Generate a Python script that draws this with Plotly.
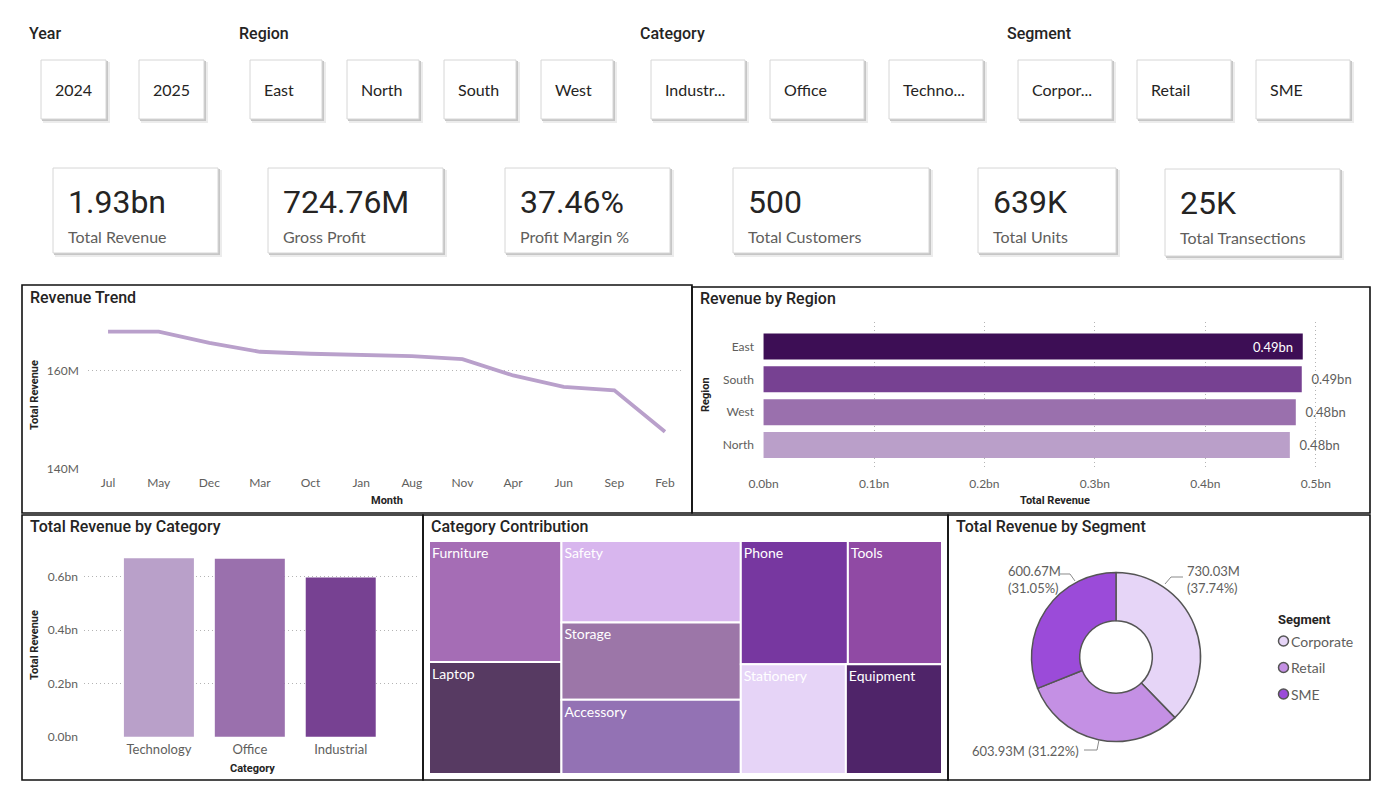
import plotly.graph_objects as go

W, H = 1388, 801
def X(p): return p / W
def Y(p): return 1 - p / H

# ---------------- data ----------------
slicer_headers = ["Year", "Region", "Category", "Segment"]
year_items = ["2024", "2025"]
region_items = ["East", "North", "South", "West"]
category_items = ["Industr...", "Office", "Techno..."]
segment_items = ["Corpor...", "Retail", "SME"]

kpi_values = ["1.93bn", "724.76M", "37.46%", "500", "639K", "25K"]
kpi_labels = ["Total Revenue", "Gross Profit", "Profit Margin %", "Total Customers", "Total Units", "Total Transections"]

months = ["Jul", "May", "Dec", "Mar", "Oct", "Jan", "Aug", "Nov", "Apr", "Jun", "Sep", "Feb"]
month_revenue_m = [167.9, 167.9, 165.6, 163.8, 163.4, 163.2, 162.9, 162.3, 159.0, 156.7, 156.0, 147.6]

regions = ["East", "South", "West", "North"]
region_revenue_bn = [0.4882, 0.4873, 0.4819, 0.4765]

categories = ["Technology", "Office", "Industrial"]
category_revenue_bn = [0.670, 0.668, 0.598]

subcategories = ["Furniture", "Laptop", "Safety", "Storage", "Accessory", "Phone", "Tools", "Stationery", "Equipment"]
subcategory_revenue_m = [259.4, 240.0, 236.3, 224.5, 215.6, 213.4, 187.6, 186.8, 170.9]

segments = ["Corporate", "Retail", "SME"]
segment_revenue_m = [730.034, 603.926, 600.666]

# ---------------- style ----------------
FONT_UI = "Segoe UI, Lato, sans-serif"
FONT_T = "DIN, Roboto, sans-serif"
C_TXT = "#252423"
C_TICK = "#605E5C"
C_GRID = "#b4b4b4"
GRID_DASH = "1px,3px"

region_colors = ["#3D0E55", "#774192", "#9A70AD", "#BA9FC9"]
category_colors = ["#B9A0C9", "#9A70AD", "#774192"]
subcat_colors = ["#A56DB5", "#573A62", "#D8B6EE", "#9C76A8", "#9372B4",
                 "#7737A0", "#904AA4", "#E6D4F7", "#4F2469"]
segment_colors = ["#E6D5F7", "#C490E4", "#9B4BD9"]

# slicer / card geometry (pixels)
header_x = [28, 238, 639, 1006]
slicer_boxes = [[(41, 106), (139, 204)],
                [(250, 322), (347, 419), (444, 516), (541, 613)],
                [(651, 745), (770, 864), (889, 983)],
                [(1018, 1112), (1137, 1231), (1256, 1350)]]
card_boxes = [(53, 218, 168, 253), (268, 443, 168, 253), (505, 670, 168, 253),
              (733, 929, 168, 253), (978, 1116, 168, 253), (1165, 1340, 169, 256)]
panels = [(22, 285, 692, 513), (692, 287, 1370, 513), (22, 515, 423, 780),
          (423, 515, 948, 780), (948, 515, 1370, 780)]

shapes = []
annotations = []

def rect(x0, y0, x1, y1, fill=None, line=None, lw=1):
    d = dict(type="rect", xref="paper", yref="paper",
             x0=X(x0), x1=X(x1), y0=Y(y1), y1=Y(y0), layer="below")
    d["fillcolor"] = fill if fill else "rgba(0,0,0,0)"
    d["line"] = dict(color=line if line else "rgba(0,0,0,0)", width=lw if line else 0)
    return d

def text(x, y, s, size=12, color=C_TXT, family=FONT_UI, xanchor="left", weight="normal", angle=0, align="left"):
    annotations.append(dict(x=X(x), y=Y(y), xref="paper", yref="paper", text=s,
                            showarrow=False, xanchor=xanchor, yanchor="middle",
                            textangle=angle, align=align, borderpad=0,
                            font=dict(size=size, color=color, family=family, weight=weight)))

def shadow_box(x0, y0, x1, y1):
    shapes.append(rect(x0 + 2, y0 + 2, x1 + 4, y1 + 4, fill="#ececec"))
    shapes.append(rect(x0 + 1, y0 + 1, x1 + 2, y1 + 2, fill="#c6c6c6"))
    shapes.append(rect(x0, y0, x1, y1, fill="white", line="#d6d6d6", lw=1))

# slicers
slicer_items = [year_items, region_items, category_items, segment_items]
for hx, hdr, boxes, items in zip(header_x, slicer_headers, slicer_boxes, slicer_items):
    text(hx, 34, hdr, size=16, family=FONT_T, weight=500)
    for (bx0, bx1), it in zip(boxes, items):
        shadow_box(bx0, 60, bx1, 119)
        text(bx0 + 13, 89.5, it, size=16)

# KPI cards
for (cx0, cx1, cy0, cy1), v, lab in zip(card_boxes, kpi_values, kpi_labels):
    shadow_box(cx0, cy0, cx1, cy1)
    text(cx0 + 14, cy0 + 34, v, size=32, family=FONT_T)
    text(cx0 + 14, cy0 + 68, lab, size=16, color=C_TICK)

# panels
for (px0, py0, px1, py1) in panels:
    s = rect(px0, py0, px1, py1, line="#111111", lw=1.6)
    s["layer"] = "above"
    shapes.append(s)

# panel titles
text(29, 297, "Revenue Trend", size=16, family=FONT_T, weight=500)
text(699, 298, "Revenue by Region", size=16, family=FONT_T, weight=500)
text(29, 526, "Total Revenue by Category", size=16, family=FONT_T, weight=500)
text(430, 526, "Category Contribution", size=16, family=FONT_T, weight=500)
text(955, 526, "Total Revenue by Segment", size=16, family=FONT_T, weight=500)

# axis titles
text(387, 500, "Month", size=11, family=FONT_T, weight="bold", xanchor="center")
text(34, 395, "Total Revenue", size=11, family=FONT_T, weight="bold", xanchor="center", angle=-90)
text(1055, 500, "Total Revenue", size=11, family=FONT_T, weight="bold", xanchor="center")
text(705, 395, "Region", size=11, family=FONT_T, weight="bold", xanchor="center", angle=-90)
text(252, 768, "Category", size=11, family=FONT_T, weight="bold", xanchor="center")
text(34, 645, "Total Revenue", size=11, family=FONT_T, weight="bold", xanchor="center", angle=-90)

fig = go.Figure()

# Revenue trend
fig.add_trace(go.Scatter(x=months, y=month_revenue_m, mode="lines",
                         line=dict(color="#B9A0CB", width=3.8),
                         xaxis="x", yaxis="y", showlegend=False, hoverinfo="x+y"))

# Revenue by region
NB = "\u00a0\u00a0"
region_pos = ["inside"] + ["outside"] * (len(regions) - 1)
region_txt = [f"{v:.2f}bn" + NB if p == "inside" else NB + f"{v:.2f}bn"
              for v, p in zip(region_revenue_bn, region_pos)]
fig.add_trace(go.Bar(y=regions, x=region_revenue_bn, orientation="h",
                     marker=dict(color=region_colors, line=dict(width=0)),
                     width=0.79, text=region_txt,
                     textposition=region_pos, insidetextanchor="end",
                     insidetextfont=dict(color="white", size=13, family=FONT_UI),
                     outsidetextfont=dict(color=C_TICK, size=13, family=FONT_UI),
                     cliponaxis=False, xaxis="x2", yaxis="y2", showlegend=False))

# Revenue by category
fig.add_trace(go.Bar(x=categories, y=category_revenue_bn,
                     marker=dict(color=category_colors, line=dict(width=0)),
                     width=0.77, xaxis="x3", yaxis="y3", showlegend=False))

# Treemap
fig.add_trace(go.Treemap(labels=subcategories, parents=[""] * len(subcategories),
                         values=subcategory_revenue_m, sort=True,
                         tiling=dict(packing="squarify", squarifyratio=1.618, pad=0),
                         marker=dict(colors=subcat_colors, line=dict(color="white", width=2),
                                     pad=dict(t=0, l=0, r=0, b=0)),
                         textposition="top left", texttemplate="%{label}",
                         textfont=dict(color="white", size=14, family=FONT_UI),
                         pathbar=dict(visible=False),
                         domain=dict(x=[X(429), X(942)], y=[Y(774), Y(541)])))

# Donut
fig.add_trace(go.Pie(labels=segments, values=segment_revenue_m, hole=0.43, sort=False,
                     direction="clockwise", rotation=0, textinfo="none",
                     marker=dict(colors=segment_colors, line=dict(color="#555555", width=1.5)),
                     showlegend=False,
                     domain=dict(x=[X(1031.5), X(1200.5)], y=[Y(741.5), Y(572.5)])))

total_seg = sum(segment_revenue_m)
seg_txt = [f"{v:.2f}M<br>({v / total_seg * 100:.2f}%)" for v in segment_revenue_m]
# Corporate label (right), Retail (bottom), SME (left)
text(1186, 579.5, seg_txt[0], size=13, color=C_TICK)
text(1080, 751, seg_txt[1].replace("<br>", " "), size=13, color=C_TICK, xanchor="right")
text(1007, 579.5, seg_txt[2], size=13, color=C_TICK)
for pts in [[(1165, 584), (1171, 577), (1183, 577)],
            [(1099, 740), (1097, 750), (1084, 750)],
            [(1075, 581), (1070, 574), (1060, 574)]]:
    path = "M " + " L ".join(f"{X(a):.5f},{Y(b):.5f}" for a, b in pts)
    shapes.append(dict(type="path", xref="paper", yref="paper", path=path,
                       line=dict(color="#8a8a8a", width=1), layer="above"))

# Donut legend
text(1277, 619, "Segment", size=13, family=FONT_T, weight="bold")
for i, (seg, col) in enumerate(zip(segments, segment_colors)):
    cy = 641 + i * 26.5
    shapes.append(dict(type="circle", xref="paper", yref="paper",
                       x0=X(1278.5), x1=X(1288.5), y0=Y(cy + 5), y1=Y(cy - 5),
                       fillcolor=col, line=dict(color="#555555", width=1.5), layer="above"))
    text(1290, cy, seg, size=14, color=C_TICK)

tickfont = dict(size=12, color=C_TICK, family=FONT_UI)
common = dict(zeroline=False, showline=False, ticks="", fixedrange=True, automargin=False)
fig.update_layout(
    width=W, height=H, margin=dict(l=0, r=0, t=0, b=0, pad=0, autoexpand=False),
    paper_bgcolor="white", plot_bgcolor="white",
    shapes=shapes, annotations=annotations,
    font=dict(family=FONT_UI),
    xaxis=dict(domain=[X(87.8), X(682.7)], anchor="y", type="category",
               range=[-0.4, 11.35], showgrid=False, tickfont=tickfont,
               ticklabelstandoff=4, **common),
    yaxis=dict(domain=[Y(469.7), Y(311.3)], anchor="x", range=[139.9, 172],
               tickvals=[140, 160], ticktext=["140M", "160M"], showgrid=True, gridcolor=C_GRID,
               griddash=GRID_DASH, gridwidth=1, tickfont=tickfont,
               ticklabelstandoff=8, **common),
    xaxis2=dict(domain=[X(763), X(1318)], anchor="y2", range=[-0.0005, 0.502],
                tickvals=[0, 0.1, 0.2, 0.3, 0.4, 0.5],
                ticktext=["0.0bn", "0.1bn", "0.2bn", "0.3bn", "0.4bn", "0.5bn"],
                showgrid=True, gridcolor=C_GRID, griddash=GRID_DASH, tickfont=tickfont,
                ticklabelstandoff=5, **common),
    yaxis2=dict(domain=[Y(469.6), Y(321.9)], anchor="x2", type="category",
                categoryorder="array", categoryarray=regions, range=[3.75, -0.75],
                showgrid=False, tickfont=tickfont, ticklabelstandoff=8, **common),
    xaxis3=dict(domain=[X(84), X(418)], anchor="y3", type="category",
                range=[-0.824, 2.85], showgrid=False,
                tickfont=dict(size=13, color=C_TICK, family=FONT_UI),
                ticklabelstandoff=3, **common),
    yaxis3=dict(domain=[Y(737), Y(550.3)], anchor="x3", range=[-0.001, 0.7],
                tickvals=[0, 0.2, 0.4, 0.6], ticktext=["0.0bn", "0.2bn", "0.4bn", "0.6bn"],
                showgrid=True, gridcolor=C_GRID, griddash=GRID_DASH, tickfont=tickfont,
                ticklabelstandoff=5, **common),
)

fig.write_html("out.html")
